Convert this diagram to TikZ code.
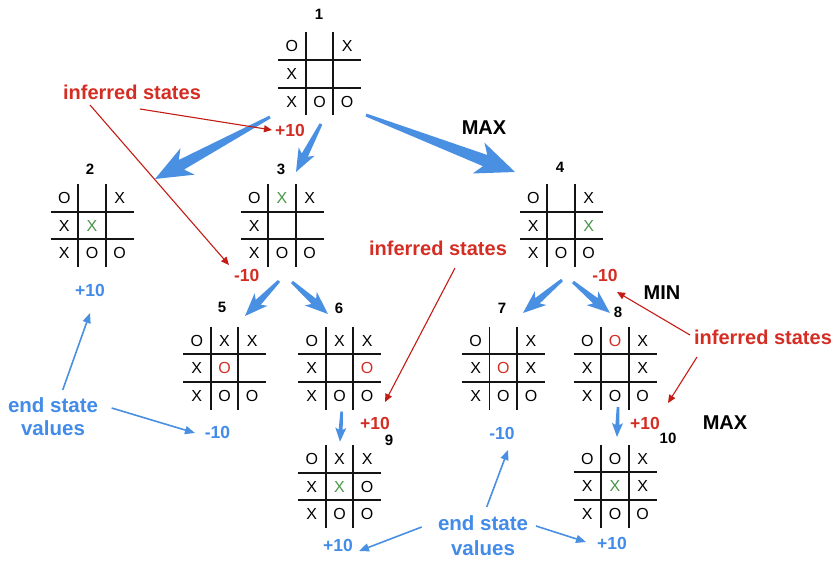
\documentclass[tikz,border=0pt]{standalone}
\usepackage{fontspec}
\setmainfont{Liberation Sans}
\usetikzlibrary{calc,arrows.meta}
\definecolor{mblue}{RGB}{74,144,226}
\definecolor{tblue}{RGB}{66,139,232}
\definecolor{mred}{RGB}{212,45,35}
\definecolor{lred}{RGB}{196,28,20}
\definecolor{mgreen}{RGB}{72,150,72}
\newcommand\gX{\textcolor{mgreen}{X}}
\newcommand\rO{\textcolor{mred}{O}}
\tikzset{
  boardbox/.style={minimum size=83pt,inner sep=0pt,draw=none},
  gridline/.style={line width=1.8pt,black!92},
  cellmark/.style={inner sep=0pt,text height=11.4pt,text depth=0pt,font=\fontsize{16}{19}\selectfont},
  numlbl/.style={inner sep=0pt,font=\bfseries\fontsize{15}{17}\selectfont,text=black},
  redval/.style={inner sep=0pt,font=\bfseries\fontsize{17.5}{20}\selectfont,text=mred},
  blueval/.style={inner sep=0pt,font=\bfseries\fontsize{17.5}{20}\selectfont,text=tblue},
  redtxt/.style={inner sep=0pt,font=\bfseries\fontsize{20}{24}\selectfont,text=mred},
  bluetxt/.style={inner sep=0pt,align=center,font=\bfseries\fontsize{20.5}{23.5}\selectfont,text=tblue},
  blacktxt/.style={inner sep=0pt,font=\bfseries\fontsize{20}{24}\selectfont,text=black},
  redarr/.style={lred,line width=1.1pt,-{Triangle[length=8pt,width=7pt]}},
  bluearr/.style={mblue,line width=1.6pt,-{Triangle[length=10pt,width=8pt]}}
}
\newcommand\tttboard[3]{%
  \node[boardbox] (#1) at (#2) {};
  \draw[gridline] ($(#1)+(-13.85,-41.5)$) -- ($(#1)+(-13.85,41.5)$);
  \draw[gridline] ($(#1)+(13.85,-41.5)$) -- ($(#1)+(13.85,41.5)$);
  \draw[gridline] ($(#1)+(-41.5,-13.85)$) -- ($(#1)+(41.5,-13.85)$);
  \draw[gridline] ($(#1)+(-41.5,13.85)$) -- ($(#1)+(41.5,13.85)$);
  \foreach \c [count=\i from 0] in {#3} {
    \pgfmathtruncatemacro\col{mod(\i,3)}
    \pgfmathtruncatemacro\row{floor(\i/3)}
    \node[cellmark] (#1-\i) at ($(#1)+({(\col-1)*27.7},{(\row-1)*27.7})$) {\c};
  }
}
\newcommand\fatarr[7]{%
  \coordinate (fan) at ($(#2)!#6!(#1)$);
  \coordinate (faw) at ($(#2)!#7!(#1)$);
  \fill[mblue] ($(#1)!#3!90:(#2)$) -- ($(fan)!#4!90:(#2)$) -- ($(faw)!#5!90:(#2)$) -- (#2)
     -- ($(faw)!#5!-90:(#2)$) -- ($(fan)!#4!-90:(#2)$) -- ($(#1)!#3!-90:(#2)$) -- cycle;
}
\begin{document}
\begin{tikzpicture}[x=1pt,y=-1pt]
\useasboundingbox (0,0) rectangle (838,583);
% boards
\tttboard{b1}{319.5,74}{O,{},X,X,{},{},X,O,O}
\tttboard{b2}{92,225.5}{O,{},X,X,\gX,{},X,O,O}
\tttboard{b3}{282,225.5}{O,\gX,X,X,{},{},X,O,O}
\tttboard{b4}{561,225.5}{O,{},X,X,{},\gX,X,O,O}
\tttboard{b5}{224.5,368}{O,X,X,X,\rO,{},X,O,O}
\tttboard{b6}{339.5,368}{O,X,X,X,{},\rO,X,O,O}
\tttboard{b9}{339.5,486.5}{O,X,X,X,\gX,O,X,O,O}
\tttboard{b7}{503.3,368}{O,{},X,X,\rO,X,X,O,O}
\tttboard{b8}{615,368}{O,\rO,X,X,{},X,X,O,O}
\tttboard{b10}{615,486}{O,O,X,X,\gX,X,X,O,O}
% board numbers
\node[numlbl] (n1) at (319,14) {1};
\node[numlbl] (n2) at (90,169) {2};
\node[numlbl] (n3) at (281,169) {3};
\node[numlbl] (n4) at (560,167) {4};
\node[numlbl] (n5) at (222,307) {5};
\node[numlbl] (n6) at (339,308) {6};
\node[numlbl] (n7) at (502,308) {7};
\node[numlbl] (n8) at (618,312) {8};
\node[numlbl] (n9) at (389,440) {9};
\node[numlbl] (n10) at (668,438) {10};
% values
\node[redval] (v1) at (290,130) {+10};
\node[redval] (v3) at (246.7,275) {-10};
\node[blueval] (v2) at (90,290) {+10};
\node[redval] (v4) at (605,275) {-10};
\node[blueval] (v5) at (217.5,432) {-10};
\node[redval] (v6) at (375,423) {+10};
\node[blueval] (v9) at (338,545) {+10};
\node[blueval] (v7) at (502,433) {-10};
\node[redval] (v8) at (645,423) {+10};
\node[blueval] (v10) at (612,543) {+10};
% texts
\node[redtxt] (inf1) at (132,92) {inferred states};
\node[redtxt] (inf2) at (438,248) {inferred states};
\node[redtxt] (inf3) at (763,337) {inferred states};
\node[blacktxt] (max1) at (484,128) {MAX};
\node[blacktxt] (max2) at (725,423) {MAX};
\node[blacktxt] (min1) at (662,293) {MIN};
\node[bluetxt] (end1) at (53,416.5) {end state\\values};
\node[bluetxt,font=\bfseries\fontsize{20.5}{25}\selectfont] (end2) at (483,536) {end state\\values};
% fat blue arrows
\coordinate (w1s) at (270,117); \coordinate (w1e) at (155,179);
\coordinate (w2s) at (321,124); \coordinate (w2e) at (296,172);
\coordinate (w3s) at (366,115); \coordinate (w3e) at (515,172);
\coordinate (w4s) at (279,281); \coordinate (w4e) at (245,316);
\coordinate (w5s) at (292,282); \coordinate (w5e) at (328,314);
\coordinate (w6s) at (562,280); \coordinate (w6e) at (523,313);
\coordinate (w7s) at (573,282); \coordinate (w7e) at (610,313);
\coordinate (w8s) at (341.7,411.5); \coordinate (w8e) at (340,441.7);
\coordinate (w9s) at (618,407); \coordinate (w9e) at (617,437);
\fatarr{w1s}{w1e}{1.5pt}{5.5pt}{15pt}{30pt}{37pt}
\fatarr{w2s}{w2e}{1.5pt}{3.5pt}{9pt}{19pt}{23pt}
\fatarr{w3s}{w3e}{1.5pt}{6pt}{16.5pt}{32pt}{39pt}
\fatarr{w4s}{w4e}{1.5pt}{3.5pt}{9pt}{19pt}{23pt}
\fatarr{w5s}{w5e}{1.5pt}{3.5pt}{9pt}{19pt}{23pt}
\fatarr{w6s}{w6e}{1.5pt}{3.5pt}{9pt}{19pt}{23pt}
\fatarr{w7s}{w7e}{1.5pt}{3.5pt}{9pt}{19pt}{23pt}
\fatarr{w8s}{w8e}{1.3pt}{2pt}{5.5pt}{12pt}{14pt}
\fatarr{w9s}{w9e}{1.3pt}{2pt}{5.5pt}{12pt}{14pt}
% red arrows
\coordinate (r1s) at (140,109); \coordinate (r1e) at (272,130);
\coordinate (r2s) at (90,105); \coordinate (r2e) at (229,265);
\coordinate (r3s) at (455,268); \coordinate (r3e) at (385,402);
\coordinate (r4s) at (690,335); \coordinate (r4e) at (617,292);
\coordinate (r5s) at (697,357); \coordinate (r5e) at (668,403);
\draw[redarr] (r1s) -- (r1e);
\draw[redarr] (r2s) -- (r2e);
\draw[redarr] (r3s) -- (r3e);
\draw[redarr] (r4s) -- (r4e);
\draw[redarr] (r5s) -- (r5e);
% blue thin arrows
\coordinate (e1s) at (62.7,390); \coordinate (e1e) at (90,313);
\coordinate (e2s) at (111.7,408); \coordinate (e2e) at (195,433);
\coordinate (e3s) at (421.7,527); \coordinate (e3e) at (359,551);
\coordinate (e4s) at (486.7,507); \coordinate (e4e) at (508,450);
\coordinate (e5s) at (536,526); \coordinate (e5e) at (586,542);
\draw[bluearr] (e1s) -- (e1e);
\draw[bluearr] (e2s) -- (e2e);
\draw[bluearr] (e3s) -- (e3e);
\draw[bluearr] (e4s) -- (e4e);
\draw[bluearr] (e5s) -- (e5e);
\end{tikzpicture}
\end{document}
